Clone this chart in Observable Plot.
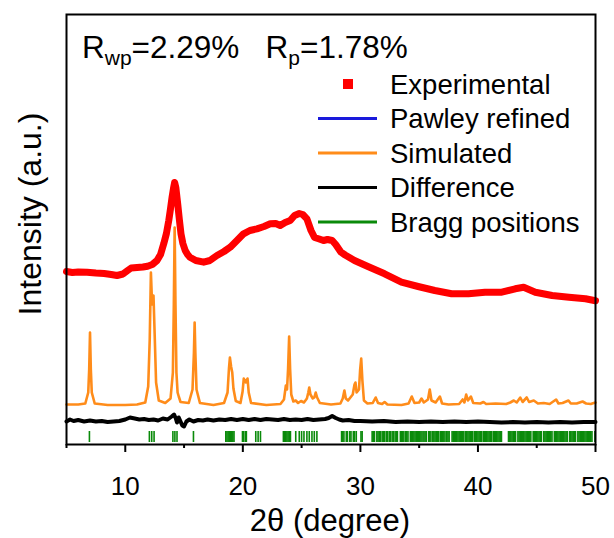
<!DOCTYPE html>
<html><head><meta charset="utf-8">
<script src="https://cdn.jsdelivr.net/npm/d3@7"></script>
<script src="https://cdn.jsdelivr.net/npm/@observablehq/plot@0.6"></script>
<style>body{margin:0;background:#fff;font-family:"Liberation Sans",Arial,sans-serif}</style>
</head><body><div id="chart"></div>
<script>
// Experimental pattern (2θ, intensity a.u.)
const expTheta = [5.0,5.5,6.0,6.75,7.5,8.2,8.8,9.3,9.8,10.2,10.5,11.0,11.5,11.9,12.3,12.7,13.0,13.27,13.5,13.7,13.85,13.98,14.1,14.2,14.3,14.46,14.6,14.74,14.9,15.1,15.3,15.5,16.0,16.67,17.2,17.8,18.4,18.93,19.5,20.06,20.6,21.2,21.8,22.33,22.8,23.18,23.6,24.03,24.4,24.8,25.1,25.45,25.8,26.1,26.5,26.86,27.2,27.6,27.9,28.35,28.7,29.5,30.64,32.06,33.49,34.91,36.33,37.76,39.19,40.6,42.03,43.17,43.89,44.88,46.31,47.74,49.15,50.0];
const expInt   = [173,172,172.5,172.3,171.5,171,170,169,170.5,174,176.5,177,177.5,178.3,180,184,190,200.7,211,224,236,247.3,256,262,257,240.7,225,210.7,201,194,190,187.3,184,182.3,184,189,193,197.3,204,210.7,214,215.7,218,220.7,221,219,222,224,229,231,230,225.7,214,207,205.5,204,205,204,200,192.3,189.5,184,178,170.7,162.3,158,154,150.7,150.7,152.3,152.3,155.7,157.3,152.3,149,147.3,145.7,143.8];

// Simulated pattern
const simTheta = [5.0,6.0,6.6,6.85,6.93,7.0,7.07,7.15,7.4,8.5,10,11.0,11.7,11.95,12.08,12.18,12.28,12.4,12.5,12.62,12.85,13.4,13.85,14.05,14.13,14.2,14.27,14.35,14.45,14.55,14.7,15.4,15.72,15.84,15.9,15.96,16.06,16.35,17.5,18.4,18.7,18.82,18.9,19.0,19.1,19.2,19.4,19.8,19.98,20.08,20.25,20.4,20.5,20.7,22.0,23.2,23.5,23.66,23.76,23.85,23.94,24.02,24.12,24.3,24.5,24.7,24.95,25.2,25.45,25.57,25.65,25.75,25.95,26.08,26.2,26.32,26.55,27.5,28.3,28.5,28.64,28.76,28.95,29.35,29.5,29.58,29.68,29.88,29.98,30.07,30.17,30.3,30.6,31.05,31.3,31.5,31.85,32.06,32.3,33.5,34.1,34.37,34.6,35.0,35.2,35.4,35.75,35.9,36.05,36.4,36.76,36.95,37.5,38.4,38.7,38.85,39.0,39.15,39.4,39.6,40.2,40.47,40.7,41.5,42.4,42.75,43.05,43.3,43.6,43.8,44.15,44.35,44.75,45.1,45.6,46.1,46.65,46.85,47.2,47.7,47.9,48.4,48.9,49.2,49.6,49.85,50.0];
const simInt   = [40,40,41,52,75,112,75,52,41,39.5,39.5,40,42,58,105,172,140,149,110,62,44,41.5,46,72,140,217,140,72,52,48,42.5,41.5,55,92,122,92,55,41.5,39.5,41.5,52,76,87,78,72,56,43.5,41.5,53,66,62,66,52,41.5,39.5,40.5,45,59,55,76,108,76,50,43,44,41.5,43.5,42,46,52,57,50,46,47,52,47,41.5,40,41,46,54,46,44,50,60,62,52,55,75,86,64,44,41,41.5,47,41.5,40.5,42.5,40,39.5,41,48,41.5,42,46,42,45,55,44,42,48,41,40,40.5,45,42,50,44,48,41.5,41,42.5,40.5,41,40.5,42,44,42,47,42.5,47,42.5,44,41,41.5,40.5,45,41,41.5,44,41,41,43,41,40.5,41.5,42];

// Difference curve
const diffTheta = [5.0,5.3,5.6,6.0,6.5,7.0,7.5,8.0,8.5,9.0,9.5,10.0,10.4,10.8,11.2,11.6,12.0,12.4,12.8,13.2,13.6,13.95,14.15,14.3,14.4,14.55,14.7,14.85,15.0,15.2,15.45,15.8,16.2,16.6,17.0,17.5,18.0,18.5,19.0,19.5,20.0,20.5,21.0,21.5,22.0,22.5,23.0,23.5,24.0,24.5,25.0,25.5,26.0,26.5,27.0,27.3,27.6,27.9,28.2,28.5,29.0,29.5,30.0,31,32,33,34,35,36,37,38,39,40,41,42,43,44,45,46,47,48,49,50];
const diffInt   = [23,25,23.5,24.5,23,24,23,23.5,22.5,23,23.5,25,27,26,25,25.5,24.5,25,24,26,25,28,30,26,22,27,23,19,18,23,25,23,24.5,24,25,24,25,24.5,25.5,24.5,25.5,24.5,25.5,24.5,25.5,25,24.5,25.5,24.5,25,24.5,25.5,24.5,25,25.5,26.5,28.5,26.5,25,24,24.5,23.5,23.5,23,23.5,22.5,23,22.5,23,22.5,23,22.5,23,22.5,22,22.5,22,22.5,22,22.5,22,22.5,22.5];

// Bragg reflection positions (2θ)
const braggPos = [6.95,12.05,12.25,12.45,14.05,14.22,14.4,15.8,
 18.55,18.65,18.75,18.85,18.95,19.05,19.15,19.25,19.97,20.07,20.22,20.3,21.1,21.3,21.5,
 23.45,23.55,23.65,23.75,23.85,23.95,24.05,24.5,24.8,25.0,25.2,25.45,25.65,25.88,26.08,26.3,
 28.4,28.5,28.6,28.8,28.9,29.1,29.2,29.4,29.5,29.65,30.05,30.15,
 31.0,31.1,31.2,31.4,31.5,31.6,31.7,31.85,31.95,32.05,32.2,32.3,32.45,32.55,32.7,32.8,32.95,33.05,33.15,
 33.4,33.5,33.6,33.7,33.85,33.95,34.05,
 34.25,34.35,34.45,34.55,34.65,34.75,34.85,34.95,35.05,35.15,35.25,35.4,35.5,35.6,
 35.8,35.9,36.0,36.15,36.25,36.35,36.45,36.55,36.65,36.8,36.9,37.0,37.1,37.2,37.35,37.45,37.55,
 37.8,37.9,38.0,38.1,38.2,38.3,38.4,38.5,38.6,38.7,38.8,38.95,39.05,39.15,39.25,39.35,39.45,39.55,39.7,39.8,39.9,40.0,40.1,40.2,40.3,40.45,40.55,40.65,40.75,40.85,40.95,41.05,41.15,41.3,41.4,41.5,41.6,41.7,41.8,41.9,42.0,
 42.6,42.7,42.8,42.9,43.0,43.1,43.2,43.4,43.5,43.6,43.7,43.8,43.9,44.0,44.1,44.2,44.3,44.4,44.5,44.7,44.8,44.9,45.0,45.1,45.2,45.3,45.4,45.6,45.7,45.8,45.9,46.0,46.1,46.2,46.3,46.5,46.6,46.7,46.8,46.9,47.0,47.1,47.2,47.3,47.4,47.5,47.6,47.8,47.9,48.0,48.1,48.2,48.3,48.5,48.6,48.7,48.8,48.9,49.0,49.1,49.2,49.3,49.4,49.5,49.6,49.7,49.95];

const majorTicks = [10,20,30,40,50];
const minorTicks = [5,15,25,35,45];

const legendLabels = ["Experimental","Pawley refined","Simulated","Difference","Bragg positions"];
const legendColors = ["#ff0000","#1a1adb","#ff8c1a","#000000","#0a8a0a"];
const legendKinds  = ["square","line","line","line","line"];

const exp = expTheta.map((t,i)=>({t, v: expInt[i]}));
const sim = simTheta.map((t,i)=>({t, v: simInt[i]}));
const diff = diffTheta.map((t,i)=>({t, v: diffInt[i]}));

const W = 614, H = 538;
const ML = 66, MR = 19, MT = 14, MB = 94;
const FONT = "Liberation Sans, Arial, sans-serif";

const chart = Plot.plot({
  width: W, height: H,
  marginLeft: ML, marginRight: MR, marginTop: MT, marginBottom: MB,
  style: {fontFamily: FONT, background: "white", color: "black"},
  x: {domain: [5, 50]},
  y: {domain: [0, 430], axis: null},
  marks: [
    Plot.line(exp, {x: "t", y: "v", stroke: legendColors[1], strokeWidth: 2}),
    Plot.line(exp, {x: "t", y: "v", stroke: legendColors[0], strokeWidth: 7, strokeLinejoin: "round"}),
    Plot.line(sim, {x: "t", y: "v", stroke: legendColors[2], strokeWidth: 2.6, strokeLinejoin: "round"}),
    Plot.line(diff, {x: "t", y: "v", stroke: legendColors[3], strokeWidth: 4, strokeLinejoin: "round"}),
    Plot.ruleX(braggPos, {x: d => d, y1: 2, y2: 13, stroke: legendColors[4], strokeWidth: 1.6}),
    Plot.frame({stroke: "black", strokeWidth: 2}),
    Plot.axisX(majorTicks, {tickSize: 8, tickPadding: 24, fontSize: 26, strokeWidth: 2, label: null, tickFormat: d => String(d)}),
    Plot.axisX(minorTicks, {tickSize: 4, strokeWidth: 2, label: null, tickFormat: () => ""})
  ]
});
document.getElementById("chart").appendChild(chart);

const svg = d3.select(chart);
// axis titles
svg.append("text").attr("x", 330).attr("y", 531).attr("text-anchor", "middle")
  .attr("font-family", FONT).attr("font-size", 31).attr("fill", "black").text("2θ (degree)");
svg.append("text").attr("transform", "translate(41,214) rotate(-90)").attr("text-anchor", "middle")
  .attr("font-family", FONT).attr("font-size", 32).attr("fill", "black").text("Intensity (a.u.)");

// R factors
const rt = svg.append("text").attr("x", 82).attr("y", 58).attr("text-anchor", "start")
  .attr("font-family", FONT).attr("font-size", 31.5).attr("fill", "black");
rt.append("tspan").text("R");
rt.append("tspan").attr("font-size", 21).attr("dy", 7).text("wp");
rt.append("tspan").attr("dy", -7).text("=2.29%\u00a0\u00a0\u00a0R");
rt.append("tspan").attr("font-size", 21).attr("dy", 7).text("p");
rt.append("tspan").attr("dy", -7).text("=1.78%");

// legend
const lg = svg.append("g").attr("text-anchor", "start");
legendLabels.forEach((lab, i) => {
  const y = 84 + i * 34.5;
  if (legendKinds[i] === "square") {
    lg.append("rect").attr("x", 343).attr("y", y - 5).attr("width", 10).attr("height", 10).attr("fill", legendColors[i]);
  } else {
    lg.append("line").attr("x1", 318).attr("x2", 377).attr("y1", y).attr("y2", y)
      .attr("stroke", legendColors[i]).attr("stroke-width", 3);
  }
  lg.append("text").attr("x", 390).attr("y", y).attr("dy", "0.36em").attr("text-anchor", "start")
    .attr("font-family", FONT).attr("font-size", 27.5).attr("fill", "black").text(lab);
});
</script>
</body></html>
